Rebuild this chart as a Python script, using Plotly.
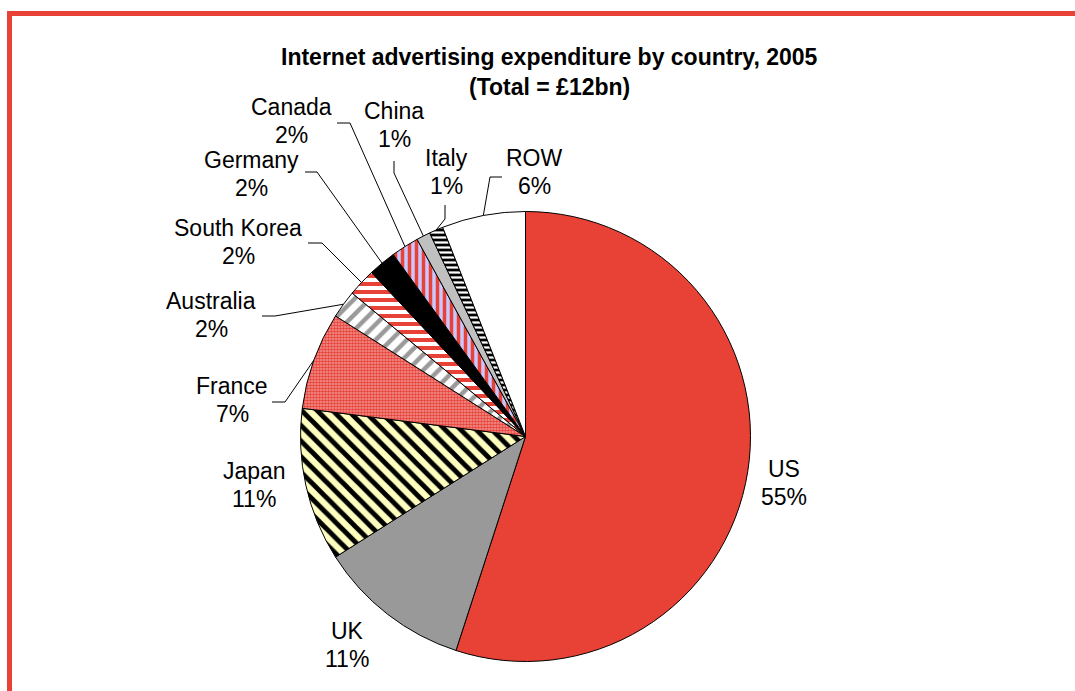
import math
import plotly.graph_objects as go

# Data: share of 2005 internet advertising spend (%), clockwise from 12 o'clock
countries = ["US", "UK", "Japan", "France", "Australia", "South Korea",
             "Germany", "Canada", "China", "Italy", "ROW"]
shares = [55, 11, 11, 7, 2, 2, 2, 2, 1, 1, 6]

title_lines = ["Internet advertising expenditure by country, 2005", "(Total = £12bn)"]

# Canvas and pie geometry (pixels)
W, H = 1075, 691
CX, CY, R = 525.5, 436.5, 225
RED = "#E84135"
FONT = "Liberation Sans, Arial, sans-serif"

# Fill styles per slice
fill_shape = ["", "", "\\", ".", "/", "-", "", "|", "", "-", ""]
fill_fg = [RED, "#999999", "#000000", RED, "#9A9A9A", RED, "#000000", RED,
           "#C0C0C0", "#FFFFFF", "#FFFFFF"]
fill_bg = [RED, "#999999", "#FFFFC0", "#F29A9A", "#FFFFFF", "#FFFFFF", "#000000",
           "#C8C8FF", "#C0C0C0", "#000000", "#FFFFFF"]
fill_size = [8, 8, 11, 3, 11, 8, 8, 7, 8, 5, 8]
fill_solid = [0.3, 0.3, 0.45, 0.6, 0.4, 0.5, 0.3, 0.5, 0.3, 0.45, 0.3]

# Label text centres (pixels) and leader-line start/knee points (pixels)
label_pos = {
    "US": (784, 483), "UK": (347, 645), "Japan": (254, 485), "France": (232, 400),
    "Australia": (211, 315), "South Korea": (238, 242), "Germany": (251, 174),
    "Canada": (291, 121), "China": (394, 125), "Italy": (446, 172), "ROW": (534, 172),
}
LINE_GAP = 28
leaders = {
    "France": [(272, 402), (285, 402)],
    "Australia": [(262, 316), (275, 316)],
    "South Korea": [(308, 243), (322, 243)],
    "Germany": [(305, 172), (317, 172)],
    "Canada": [(337, 123), (350, 123)],
    "China": [(394, 161), (394, 173)],
    "Italy": [(445, 205), (445, 219)],
    "ROW": [(502, 177), (490, 177)],
}


def px(x):
    return x / W


def py(y):
    return 1 - y / H


fig = go.Figure(go.Pie(
    labels=countries,
    values=shares,
    sort=False,
    direction="clockwise",
    rotation=0,
    textinfo="none",
    hoverinfo="label+percent",
    marker=dict(
        colors=fill_bg,
        line=dict(color="#000000", width=1),
        pattern=dict(shape=fill_shape, fgcolor=fill_fg, bgcolor=fill_bg,
                     size=fill_size, solidity=fill_solid, fillmode="replace"),
    ),
    domain=dict(x=[px(CX - R), px(CX + R)], y=[py(CY + R), py(CY - R)]),
    showlegend=False,
))

total = sum(shares)
cum = 0.0
shapes = []
annotations = []
for name, val in zip(countries, shares):
    mid = (cum + val / 2) / total
    cum += val
    theta = 2 * math.pi * mid
    ex, ey = CX + R * math.sin(theta), CY - R * math.cos(theta)
    if name in leaders:
        (sx, sy), (kx, ky) = leaders[name]
        shapes.append(dict(
            type="path", xref="paper", yref="paper",
            path=f"M {px(sx)} {py(sy)} L {px(kx)} {py(ky)} L {px(ex)} {py(ey)}",
            line=dict(color="#000000", width=1),
        ))
    lx, ly = label_pos[name]
    for text, dy in ((name, -LINE_GAP / 2), (f"{round(100 * val / total)}%", LINE_GAP / 2)):
        annotations.append(dict(
            x=px(lx), y=py(ly + dy), xref="paper", yref="paper",
            text=text, showarrow=False, xanchor="center", yanchor="middle",
            font=dict(family=FONT, size=23, color="#000000"),
        ))

for text, ty in zip(title_lines, (57, 87)):
    annotations.append(dict(
        x=px(549), y=py(ty), xref="paper", yref="paper",
        text=f"<b>{text}</b>", showarrow=False, xanchor="center", yanchor="middle",
        font=dict(family=FONT, size=23, color="#000000"),
    ))

# Red frame along the top and left edges
shapes.append(dict(
    type="rect", xref="paper", yref="paper",
    x0=px(9.5), x1=px(W + 20), y0=py(H + 20), y1=py(13.5),
    line=dict(color=RED, width=5), fillcolor="rgba(0,0,0,0)",
))

fig.update_layout(
    width=W, height=H, autosize=False,
    margin=dict(l=0, r=0, t=0, b=0),
    paper_bgcolor="#FFFFFF", plot_bgcolor="#FFFFFF",
    shapes=shapes, annotations=annotations,
)

fig.write_html("out.html", config={"displayModeBar": False})
